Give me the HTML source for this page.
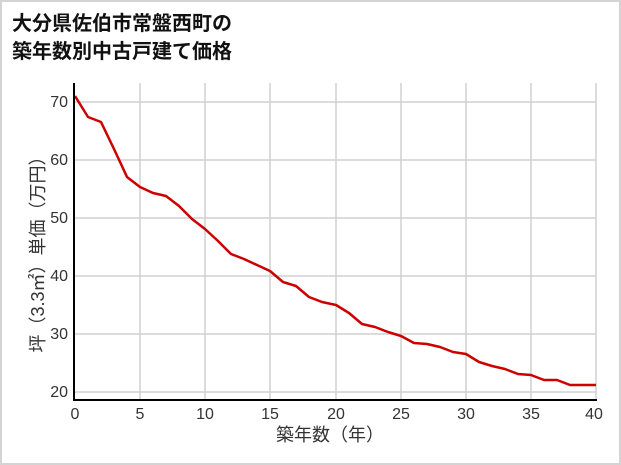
<!DOCTYPE html>
<html><head><meta charset="utf-8"><style>
body{margin:0;background:#fff}
.w{width:617px;height:461px;border:2px solid #d4d4d4;position:relative;background:#fff}
</style></head><body><div class="w">
<svg width="621" height="465" style="position:absolute;left:-2px;top:-2px" font-family="Liberation Sans, Noto Sans CJK JP, sans-serif">
<text x="12" y="30" font-size="20" font-weight="bold" fill="#111">大分県佐伯市常盤西町の</text>
<text x="12" y="58" font-size="20" font-weight="bold" fill="#111">築年数別中古戸建て価格</text>
<g stroke="#d0d0d0" stroke-width="1.5">
<line x1="75" x2="596" y1="102" y2="102"/><line x1="75" x2="596" y1="160" y2="160"/><line x1="75" x2="596" y1="218" y2="218"/><line x1="75" x2="596" y1="276" y2="276"/><line x1="75" x2="596" y1="334" y2="334"/><line x1="75" x2="596" y1="392" y2="392"/>
<line x1="140" x2="140" y1="83" y2="399"/><line x1="205" x2="205" y1="83" y2="399"/><line x1="270" x2="270" y1="83" y2="399"/><line x1="336" x2="336" y1="83" y2="399"/><line x1="401" x2="401" y1="83" y2="399"/><line x1="466" x2="466" y1="83" y2="399"/><line x1="531" x2="531" y1="83" y2="399"/><line x1="596" x2="596" y1="83" y2="399"/>
</g>
<polyline fill="none" stroke="#cc0000" stroke-width="2.5" stroke-linejoin="round" points="75,96 88,117 101,122 114,149 127,177 140,187 153,193 166,196 179,206 192,219 205,229 218,241 231,254 244,259 257,265 270,271 283,282 296,286 309,297 322,302 336,305 349,313 362,324 375,327 388,332 401,336 414,343 427,344 440,347 453,352 466,354 479,362 492,366 505,369 518,374 531,375 544,380 557,380 570,385 583,385 596,385"/>
<line x1="74" y1="83" x2="74" y2="400" stroke="#000" stroke-width="2"/>
<line x1="73" y1="400" x2="597" y2="400" stroke="#000" stroke-width="2"/>
<g font-size="16" fill="#333" text-anchor="end">
<text x="68" y="107">70</text><text x="68" y="165">60</text><text x="68" y="223">50</text><text x="68" y="281">40</text><text x="68" y="339">30</text><text x="68" y="397">20</text></g>
<g font-size="16" fill="#333" text-anchor="middle">
<text x="75" y="419">0</text><text x="140" y="419">5</text><text x="205" y="419">10</text><text x="270" y="419">15</text><text x="336" y="419">20</text><text x="401" y="419">25</text><text x="466" y="419">30</text><text x="531" y="419">35</text><text x="594" y="419">40</text>
<text x="330" y="441" font-size="18">築年数（年）</text>
<text transform="translate(44,250) rotate(-90)" font-size="18">坪（3.3㎡）単価（万円）</text>
</g>
</svg></div></body></html>
